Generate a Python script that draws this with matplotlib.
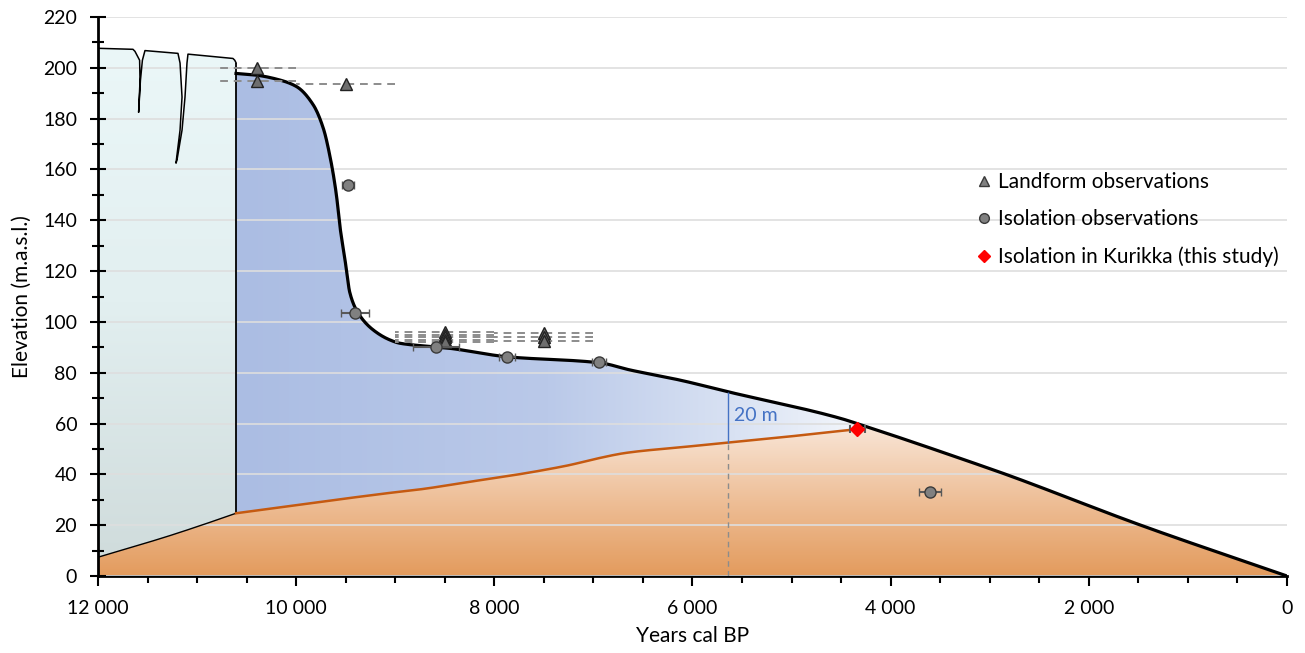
import numpy as np
import matplotlib
matplotlib.use('Agg')
import matplotlib.pyplot as plt
from matplotlib.patches import Polygon
from matplotlib.lines import Line2D
from matplotlib.colors import LinearSegmentedColormap
from matplotlib.ticker import MultipleLocator

# --- Global Plotting Settings ---
plt.rcParams['font.family'] = ['Lato', 'DejaVu Sans']
plt.rcParams['font.size'] = 14

# --- Data ---
# Ice sheet surface (years cal BP, m a.s.l.)
ice_top_years = [12000, 11647, 11627, 11580, 11576, 11590, 11572, 11552, 11526,
                 11193, 11172, 11152, 11172, 11213, 11203, 11152, 11122, 11102, 11092,
                 10638, 10620, 10607]
ice_top_elev = [207.7, 207.3, 206.5, 203.0, 195.0, 182.5, 195.0, 203.0, 206.8,
                205.7, 201.9, 188.5, 175.5, 162.5, 163.7, 175.5, 188.5, 201.9, 205.4,
                203.7, 203.0, 202.0]
# Ice sheet base / land surface under the ice
ice_base_years = [12000, 11644, 11307, 10971, 10607]
ice_base_elev = [7.4, 11.5, 15.5, 19.8, 24.7]
# Lake floor / land surface (orange line)
floor_years = [10607, 8952, 8750, 8246, 7741, 7405, 7236, 7001, 6664, 6058, 5639, 5050, 4410, 4336]
floor_elev = [24.7, 33.2, 34.1, 37.1, 40.1, 42.4, 43.7, 45.9, 48.5, 50.9, 52.5, 54.8, 57.5, 57.8]
# Shoreline displacement curve
shore_years = [10607, 10416, 10163, 9995, 9827, 9726, 9658, 9595, 9558, 9507, 9457, 9373,
               9221, 9053, 8952, 8600, 8447, 7875, 6934, 6631, 6126, 5640, 4511, 4300,
               3098, 2829, 1483, 0]
shore_elev = [197.8, 197.2, 195.2, 192.6, 185.4, 176.2, 165.0, 150.3, 137.5, 124.4, 111.3, 103.4,
              96.8, 92.9, 91.6, 90.2, 89.6, 86.3, 83.9, 81.1, 77.1, 72.5, 62.1, 59.5,
              43.6, 39.9, 20.1, 0.0]

# Landform observations (triangles, dashed x ranges)
landform_years = [10400, 10400, 9500, 8500, 8500, 8500, 8500, 8500, 7500, 7500, 7500]
landform_elev = [200.0, 195.0, 193.5, 96.0, 95.0, 94.0, 93.0, 92.0, 95.5, 94.0, 92.5]
landform_xerr = [400, 400, 500, 500, 500, 500, 500, 500, 500, 500, 500]

# Isolation observations (circles)
isolation_years = [9480, 9406, 8589, 7875, 6944, 3603]
isolation_elev = [153.9, 103.4, 90.2, 86.3, 84.1, 32.9]
isolation_xerr = [60, 138, 236, 80, 75, 113]

# Kurikka isolation (this study)
kurikka_year = [4336]
kurikka_elev = [57.7]
kurikka_xerr = [75]

# "20 m" annotation
note_year = 5640
note_low = 52.5
note_high = 72.5

x_ticks = [12000, 10000, 8000, 6000, 4000, 2000, 0]
x_tick_labels = ['12 000', '10 000', '8 000', '6 000', '4 000', '2 000', '0']
y_ticks = list(range(0, 221, 20))


def smooth(xs, ys, n=400):
    # shape-preserving cubic (like a smoothed line in a spreadsheet chart)
    x = np.asarray(xs, float)[::-1]
    y = np.asarray(ys, float)[::-1]
    h = np.diff(x)
    delta = np.diff(y) / h
    d = np.zeros_like(y)
    d[0], d[-1] = delta[0], delta[-1]
    for k in range(1, len(x) - 1):
        if delta[k - 1] * delta[k] > 0:
            w1 = 2 * h[k] + h[k - 1]
            w2 = h[k] + 2 * h[k - 1]
            d[k] = (w1 + w2) / (w1 / delta[k - 1] + w2 / delta[k])
    xn = np.linspace(x[0], x[-1], n)
    i = np.clip(np.searchsorted(x, xn) - 1, 0, len(x) - 2)
    t = (xn - x[i]) / h[i]
    h00 = 2 * t**3 - 3 * t**2 + 1
    h10 = t**3 - 2 * t**2 + t
    h01 = -2 * t**3 + 3 * t**2
    h11 = t**3 - t**2
    yn = h00 * y[i] + h10 * h[i] * d[i] + h01 * y[i + 1] + h11 * h[i] * d[i + 1]
    return list(xn[::-1]), list(yn[::-1])


def gradient_fill(ax, xs, ys, colors, extent, vertical=True, zorder=1):
    poly = Polygon(np.column_stack([xs, ys]), closed=True, facecolor='none', edgecolor='none')
    ax.add_patch(poly)
    cmap = LinearSegmentedColormap.from_list('g', colors)
    grad = np.linspace(0, 1, 256)
    grad = grad.reshape(-1, 1) if vertical else grad.reshape(1, -1)
    im = ax.imshow(grad, cmap=cmap, extent=extent, origin='lower', aspect='auto',
                   zorder=zorder, interpolation='bilinear')
    im.set_clip_path(poly)


base_x, base_y = smooth(ice_base_years, ice_base_elev, 200)
floor_x, floor_y = smooth(floor_years, floor_elev, 600)
shore_x, shore_y = smooth(shore_years, shore_elev, 1500)

fig = plt.figure(figsize=(13.05, 6.53), dpi=100)
ax = fig.add_axes([0.0751, 0.1179, 0.9111, 0.856])

# --- Ice sheet ---
ice_x = ice_top_years + base_x[::-1]
ice_y = ice_top_elev + base_y[::-1]
gradient_fill(ax, ice_x, ice_y, ['#d0dcdc', '#e2eff0', '#ebf7f8'],
              (12000, 10607, ice_base_elev[0], max(ice_top_elev)))

# --- Lake / sea (blue) ---
sx = np.array(shore_x)
sy = np.array(shore_y)
keep = sx >= floor_years[-1]
blue_x = list(sx[keep]) + floor_x[::-1]
blue_y = list(sy[keep]) + floor_y[::-1]
gradient_fill(ax, blue_x, blue_y,
              [(0.0, '#abbde3'), (0.5, '#bac9e9'), (0.8, '#d9e2f3'), (1.0, '#f3f6fb')],
              (10607, 4300, 0, 200), vertical=False)

# --- Land (orange) ---
after = sx < floor_years[-1]
land_x = [12000] + base_x + floor_x[1:] + list(sx[after])
land_y = [0] + base_y + floor_y[1:] + list(sy[after])
gradient_fill(ax, land_x, land_y, ['#e39b5d', '#eebf98', '#f9e7d9'], (12000, 0, 0, 60))

# --- Outlines ---
ax.plot(ice_top_years, ice_top_elev, color='black', lw=1.1, zorder=3)
ax.plot(base_x, base_y, color='black', lw=1.0, zorder=3)
ax.vlines(ice_top_years[-1], ice_base_elev[-1], ice_top_elev[-1], color='black', lw=1.3, zorder=3)
ax.plot(floor_x, floor_y, color='#c55a11', lw=1.8, zorder=3)
ax.plot(shore_x, shore_y, color='black', lw=2.3, zorder=3, solid_joinstyle='round')

# --- 20 m annotation ---
ax.vlines(note_year, note_low, note_high, color='#4472c4', lw=1.0, zorder=3)
ax.vlines(note_year, 0, note_low, color='#8c8c8c', lw=1.0, linestyles=(0, (4, 3)), zorder=3)
ax.text(note_year - 60, (note_low + note_high) / 2 + 0.5, '20 m', color='#4472c4',
        fontsize=14, ha='left', va='center', zorder=4)

# --- Observations ---
eb = ax.errorbar(landform_years, landform_elev, xerr=landform_xerr, fmt='none',
                 ecolor='#8c8c8c', elinewidth=1.4, capsize=0, zorder=4)
eb[2][0].set_linestyle((0, (4, 3)))
ax.plot(landform_years, landform_elev, ls='none', marker='^', ms=8,
        mfc='#6e6e6e', mec='#222222', mew=1.0, zorder=5)

ax.errorbar(isolation_years, isolation_elev, xerr=isolation_xerr, fmt='o', ms=8,
            mfc='#808080', mec='#3a3a3a', mew=1.0, ecolor='#595959', elinewidth=1.5,
            capsize=3, capthick=1.5, zorder=5)
ax.errorbar(kurikka_year, kurikka_elev, xerr=kurikka_xerr, fmt='D', ms=7,
            mfc='#ff0000', mec='#ff0000', ecolor='#595959', elinewidth=1.5,
            capsize=3, capthick=1.5, zorder=6)

# --- Axes styling ---
ax.set_xlim(12000, 0)
ax.set_ylim(0, 220)
ax.set_xticks(x_ticks)
ax.set_xticklabels(x_tick_labels)
ax.xaxis.set_minor_locator(MultipleLocator(500))
ax.set_yticks(y_ticks)
ax.yaxis.set_minor_locator(MultipleLocator(10))
ax.tick_params(axis='y', which='major', direction='inout', length=12, width=1.5, labelsize=14, pad=9)
ax.tick_params(axis='y', which='minor', direction='inout', length=8, width=1.5)
ax.tick_params(axis='x', which='major', direction='out', length=7, width=1.5, labelsize=14, pad=10)
ax.tick_params(axis='x', which='minor', direction='out', length=5, width=1.5)
for side in ['top', 'right']:
    ax.spines[side].set_visible(False)
for side in ['left', 'bottom']:
    ax.spines[side].set_linewidth(2.0)
ax.set_axisbelow(False)
ax.yaxis.grid(True, which='major', color='#dedede', lw=1.2)
ax.set_xlabel('Years cal BP', fontsize=15, labelpad=7)
ax.set_ylabel('Elevation (m.a.s.l.)', fontsize=15, labelpad=8)

handles = [
    Line2D([], [], ls='none', marker='^', ms=7, mfc='#808080', mec='#3a3a3a'),
    Line2D([], [], ls='none', marker='o', ms=7, mfc='#808080', mec='#3a3a3a'),
    Line2D([], [], ls='none', marker='D', ms=6, mfc='#ff0000', mec='#ff0000'),
]
labels = ['Landform observations', 'Isolation observations', 'Isolation in Kurikka (this study)']
fig.legend(handles, labels, loc='upper left', bbox_to_anchor=(0.7395, 0.752), frameon=False,
           fontsize=15, handlelength=0.8, handletextpad=0.3, labelspacing=0.82, borderpad=0)

fig.savefig('out.png', dpi=100)
